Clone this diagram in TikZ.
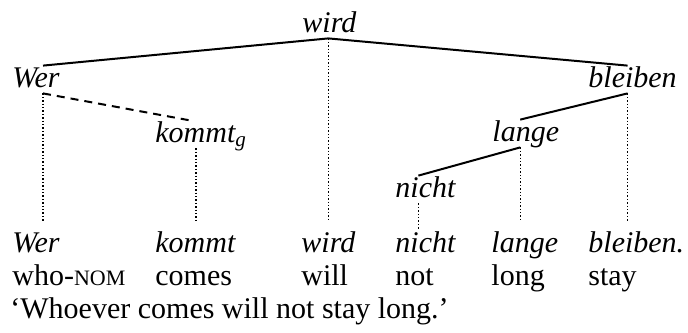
\documentclass[tikz,border=0pt]{standalone}
\usepackage{fontspec}
\setmainfont{Liberation Serif}
\usepackage{tikz}
\usetikzlibrary{positioning}

\newcommand{\fakesc}[1]{{\fontsize{11}{12}\selectfont #1}}

\begin{document}
\fontsize{15}{18}\selectfont
\begin{tikzpicture}[x=0.5pt, y=-0.5pt,
  word/.style={inner sep=0pt, anchor=base west, text height=10.5pt, text depth=3pt, font=\itshape},
  gloss/.style={inner sep=0pt, anchor=base west},
  edge/.style={line width=1pt},
  linkedge/.style={line width=1pt, dash pattern=on 4pt off 3pt},
  proj/.style={line width=0.7pt, densely dotted}]
  \useasboundingbox (0,0) rectangle (688,332);

  % Tree
  \node[word] (wird) at (302,32) {wird};
  \node[word] (wer) at (12,87) {Wer};
  \node[word] (bleiben) at (588,87) {bleiben};
  \node[word] (kommt) at (155,142) {kommt\textsubscript{g}};
  \node[word] (lange) at (492,141) {lange};
  \node[word] (nicht) at (395,197) {nicht};

  \draw[edge] ([xshift=-0.5pt]wird.south) -- ([xshift=3.5pt]wer.north);
  \draw[edge] ([xshift=-0.5pt]wird.south) -- ([xshift=-2.5pt]bleiben.north);
  \draw[linkedge] ([xshift=3.5pt]wer.south) -- ([xshift=-5pt]kommt.north);
  \draw[edge] ([xshift=-2.5pt]bleiben.south) -- ([xshift=-2.75pt]lange.north);
  \draw[edge] ([xshift=-2.75pt]lange.south) -- ([xshift=-3.5pt]nicht.north);

  % Words, glosses and translation
  \node[word] (r-wer) at (12,252) {Wer};
  \node[word] (r-kommt) at (155,252) {kommt};
  \node[word] (r-wird) at (301,252) {wird};
  \node[word] (r-nicht) at (395,252) {nicht};
  \node[word] (r-lange) at (491,252) {lange};
  \node[word] (r-bleiben) at (588,252) {bleiben.};

  \node[gloss] (g-wer) at (12,285) {who-\fakesc{NOM}};
  \node[gloss] (g-kommt) at (155,285) {comes};
  \node[gloss] (g-wird) at (301,285) {will};
  \node[gloss] (g-nicht) at (395,285) {not};
  \node[gloss] (g-lange) at (491,285) {long};
  \node[gloss] (g-bleiben) at (588,285) {stay};

  \node[gloss] (trans) at (10,318) {`Whoever comes will not stay long.'};

  % Projection lines
  \draw[proj, shorten >=4.5pt] ([xshift=3.5pt]wer.south) -- ([xshift=3.5pt]wer.south |- r-wer.north);
  \draw[proj, shorten >=4.5pt] ([xshift=-2.5pt]kommt.south) -- ([xshift=-2.5pt]kommt.south |- r-kommt.north);
  \draw[proj, shorten >=4.5pt] ([xshift=-0.5pt]wird.south) -- ([xshift=-0.5pt]wird.south |- r-wird.north);
  \draw[proj] ([xshift=-3.5pt]nicht.south) -- ([xshift=-3.5pt]nicht.south |- r-nicht.north);
  \draw[proj, shorten >=4.5pt] ([xshift=-2.75pt]lange.south) -- ([xshift=-2.75pt]lange.south |- r-lange.north);
  \draw[proj, shorten >=4.5pt] ([xshift=-2.5pt]bleiben.south) -- ([xshift=-2.5pt]bleiben.south |- r-bleiben.north);
\end{tikzpicture}
\end{document}
